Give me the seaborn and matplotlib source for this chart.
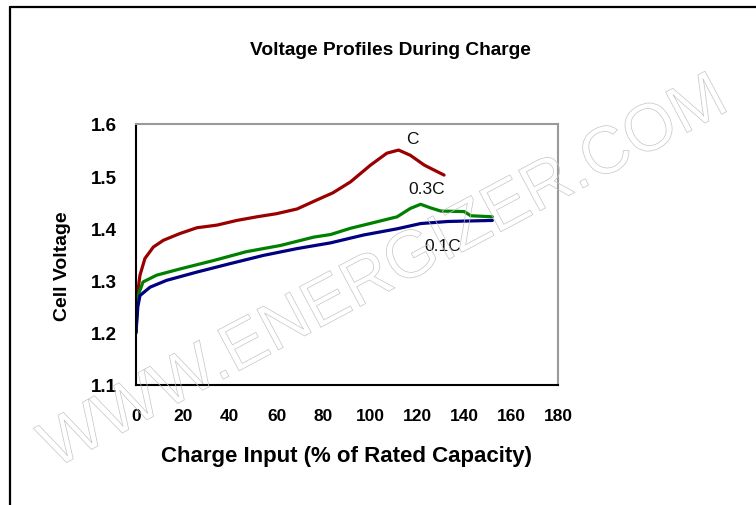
import matplotlib
matplotlib.use('Agg')
import matplotlib.pyplot as plt
import matplotlib.patheffects as pe
from matplotlib.lines import Line2D
import pandas as pd
import seaborn as sns

# Dane (ładowanie ogniwa)
c_x = [0, 0.3, 0.8, 1.7, 3.8, 7.4, 11.7, 18.8, 26, 34.5, 43, 51.6, 60, 68.7,
       77, 84, 91.5, 100, 107, 112, 117, 123, 131.4]
c_v = [1.20, 1.23, 1.28, 1.31, 1.342, 1.364, 1.377, 1.390, 1.401, 1.406, 1.415,
       1.422, 1.428, 1.437, 1.454, 1.468, 1.489, 1.521, 1.544, 1.550, 1.540,
       1.521, 1.502]

c03_x = [0, 0.3, 0.8, 3, 8.8, 18.8, 33, 47, 61.6, 75.8, 83, 91.5, 97, 111.4,
         117, 121.4, 125.7, 130, 140, 142.8, 152]
c03_v = [1.20, 1.24, 1.27, 1.297, 1.31, 1.322, 1.338, 1.355, 1.367, 1.383,
         1.388, 1.400, 1.406, 1.422, 1.438, 1.446, 1.439, 1.433, 1.432, 1.424,
         1.422]

c01_x = [0, 0.3, 0.8, 1.7, 6, 13, 26, 40, 54.4, 68.7, 83, 97, 111.4, 121.4,
         133, 152]
c01_v = [1.20, 1.22, 1.25, 1.271, 1.287, 1.300, 1.316, 1.332, 1.348, 1.361,
         1.372, 1.387, 1.399, 1.409, 1.413, 1.415]

x_ticks = [0, 20, 40, 60, 80, 100, 120, 140, 160, 180]
y_ticks = [1.1, 1.2, 1.3, 1.4, 1.5, 1.6]

labels = ['C', '0.3C', '0.1C']
label_pos = [(118, 1.572), (124, 1.476), (131, 1.367)]
colors = ['#990000', '#008000', '#000080']

df = pd.concat([
    pd.DataFrame({'x': c_x, 'v': c_v, 'rate': 'C'}),
    pd.DataFrame({'x': c03_x, 'v': c03_v, 'rate': '0.3C'}),
    pd.DataFrame({'x': c01_x, 'v': c01_v, 'rate': '0.1C'}),
])

sns.set_style('white')
plt.rcParams['font.family'] = ['Liberation Sans', 'DejaVu Sans']
plt.rcParams['text.color'] = 'black'
plt.rcParams['axes.labelcolor'] = 'black'
plt.rcParams['xtick.color'] = 'black'
plt.rcParams['ytick.color'] = 'black'

fig = plt.figure(figsize=(7.56, 5.06), dpi=100)
ax = fig.add_axes([0.1799, 0.2378, 0.5582, 0.5152])

sns.lineplot(data=df, x='x', y='v', hue='rate', hue_order=labels,
             palette=colors, sort=False, estimator=None, linewidth=2.3,
             legend=False, ax=ax)

ax.set_xlim(0, 180)
ax.set_ylim(1.1, 1.6)
ax.set_xticks(x_ticks)
ax.set_yticks(y_ticks)
ax.set_xticklabels([str(t) for t in x_ticks], fontweight='bold', fontsize=12.5)
ax.set_yticklabels([f'{t:.1f}' for t in y_ticks], fontweight='bold', fontsize=13.5)
ax.tick_params(direction='inout', length=8, width=1.3)
ax.tick_params(axis='x', pad=13)
ax.tick_params(axis='y', pad=10)

for side in ['top', 'right']:
    ax.spines[side].set_color('#9a9a9a')
    ax.spines[side].set_linewidth(1.5)
for side in ['left', 'bottom']:
    ax.spines[side].set_color('black')
    ax.spines[side].set_linewidth(1.5)

for lab, (lx, ly) in zip(labels, label_pos):
    ax.text(lx, ly, lab, ha='center', va='center', fontsize=12.5,
            color='#111111')

ax.set_xlabel('Charge Input (% of Rated Capacity)', fontweight='bold', fontsize=16)
ax.xaxis.label.set_va('center')
ax.xaxis.set_label_coords(0.499, -0.2735)
ax.set_ylabel('Cell Voltage', fontweight='bold', fontsize=14)
ax.yaxis.label.set_va('center')
ax.yaxis.set_label_coords(-0.174, 0.457)

fig.text(0.516, 0.9, 'Voltage Profiles During Charge', ha='center',
         va='center', fontweight='bold', fontsize=13.8)

# Ramka zewnętrzna
fig.add_artist(Line2D([10 / 756, 10 / 756], [0, 1 - 8 / 506],
                      transform=fig.transFigure, color='black', linewidth=1.6))
fig.add_artist(Line2D([10 / 756, 1], [1 - 8 / 506, 1 - 8 / 506],
                      transform=fig.transFigure, color='black', linewidth=1.6))

# Znak wodny
fig.text(385 / 756, 1 - 275 / 506, 'WWW.ENERGIZER.COM', ha='center',
         va='center', rotation=28, fontsize=48, color='none',
         path_effects=[pe.Stroke(linewidth=0.5, foreground='#c4c4c4')])

plt.savefig('out.png', dpi=100)
